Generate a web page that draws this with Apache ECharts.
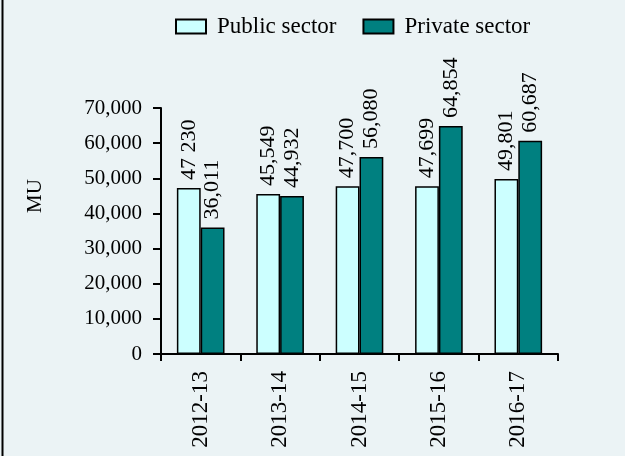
<!DOCTYPE html>
<html>
<head>
<meta charset="utf-8">
<script src="https://cdn.jsdelivr.net/npm/echarts@6/dist/echarts.min.js"></script>
<style>
html,body{margin:0;padding:0;background:#EBF3F5;}
#c{width:625px;height:456px;}
</style>
</head>
<body>
<div id="c"></div>
<script>
var categories = ['2012-13', '2013-14', '2014-15', '2015-16', '2016-17'];
var publicValues = [47230, 45549, 47700, 47699, 49801];
var privateValues = [36011, 44932, 56080, 64854, 60687];
var publicLabels = ['47 230', '45,549', '47,700', '47,699', '49,801'];
var privateLabels = ['36,011', '44,932', '56,080', '64,854', '60,687'];
var seriesNames = ['Public sector', 'Private sector'];
var yTicks = { min: 0, max: 70000, interval: 10000 };
var yAxisName = 'MU';

var FONT = 'Liberation Serif';
var chart = echarts.init(document.getElementById('c'), null, { renderer: 'canvas' });

function barLabel(texts) {
  return {
    show: true,
    position: 'top',
    rotate: 90,
    align: 'left',
    verticalAlign: 'middle',
    distance: 8,
    fontFamily: FONT,
    fontSize: 22,
    color: '#000',
    formatter: function (p) { return texts[p.dataIndex]; }
  };
}

chart.setOption({
  backgroundColor: '#EBF3F5',
  animation: false,
  graphic: [{
    type: 'line',
    shape: { x1: 2.5, y1: 0, x2: 2.5, y2: 456 },
    style: { stroke: '#000', lineWidth: 2 }
  }, {
    type: 'text',
    x: 35,
    y: 196,
    rotation: Math.PI / 2,
    style: { text: yAxisName, font: '21px Liberation Serif', fill: '#000', align: 'center', verticalAlign: 'middle' }
  }],
  legend: {
    left: 170,
    top: 10,
    itemWidth: 30,
    itemHeight: 14,
    itemGap: 26,
    icon: 'rect',
    textStyle: { fontFamily: FONT, fontSize: 23, color: '#000', padding: [0, 0, 0, 6] },
    data: seriesNames
  },
  grid: { left: 161, right: 67, top: 108, bottom: 102, containLabel: false },
  xAxis: {
    type: 'category',
    data: categories,
    axisLine: { show: true, lineStyle: { color: '#000', width: 2 } },
    axisTick: { show: true, length: 7, alignWithLabel: false, lineStyle: { color: '#000', width: 2 } },
    axisLabel: { rotate: 90, margin: 17, fontFamily: FONT, fontSize: 23, color: '#000' }
  },
  yAxis: {
    type: 'value',
    min: yTicks.min,
    max: yTicks.max,
    interval: yTicks.interval,
    axisLine: { show: true, lineStyle: { color: '#000', width: 2 } },
    axisTick: { show: true, length: 8, lineStyle: { color: '#000', width: 2 } },
    splitLine: { show: false },
    axisLabel: { margin: 19, fontFamily: FONT, fontSize: 21, color: '#000' }
  },
  series: [{
    name: seriesNames[0],
    type: 'bar',
    data: publicValues,
    barGap: '0%',
    barCategoryGap: '40%',
    itemStyle: { color: '#CCFFFF', borderColor: '#000', borderWidth: 1.5 },
    label: barLabel(publicLabels)
  }, {
    name: seriesNames[1],
    type: 'bar',
    data: privateValues,
    barGap: '0%',
    barCategoryGap: '40%',
    itemStyle: { color: '#008080', borderColor: '#000', borderWidth: 1.5 },
    label: barLabel(privateLabels)
  }]
});
</script>
</body>
</html>
